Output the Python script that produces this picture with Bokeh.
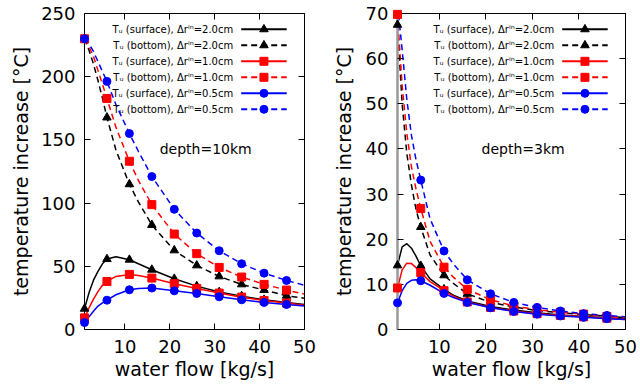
from bokeh.plotting import figure
from bokeh.layouts import row
from bokeh.models import Range1d, LinearAxis, Label
from bokeh.embed import file_html
from bokeh.resources import INLINE

FONT = "DejaVu Sans"

# ---------------- data ----------------
flow_line = [1, 2, 3, 4, 5, 6, 8, 11, 13, 16, 21, 26, 31, 36, 41, 46, 50]
flow_marker = [1, 6, 11, 16, 21, 26, 31, 36, 41, 46]
x_ticks = [10, 20, 30, 40, 50]

# depth = 10 km
d10_surf_20 = [16.4, 29, 39, 46, 52, 55.7, 57.5, 55.2, 52.0, 47.3, 40.1, 34.3, 29.6, 26.4, 23.5, 21.4, 19.8]
d10_bot_20 = [230, 221, 210, 197, 183, 167.7, 142, 114.9, 101, 82.7, 62.6, 50.7, 42.0, 35.7, 31.2, 26.7, 24.8]
d10_surf_10 = [9.2, 17, 24, 30, 35, 38.0, 42, 43.6, 42.8, 40.7, 36.2, 32.5, 28.8, 25.6, 23.0, 20.9, 19.2]
d10_bot_10 = [230, 224, 216, 205, 194, 182.8, 160, 133.1, 118, 98.8, 75.5, 60.0, 49.1, 41.5, 35.7, 31.2, 28.0]
d10_surf_05 = [5.5, 10, 14.5, 18.5, 21, 23.2, 27.5, 31.4, 32.5, 32.8, 30.6, 28.5, 25.9, 23.5, 21.4, 19.8, 18.5]
d10_bot_05 = [230, 226, 220, 212, 204, 196.3, 178, 155.0, 141, 121.0, 95.1, 76.3, 62.3, 52.0, 44.6, 38.8, 35.0]
d10_y_ticks = [0, 50, 100, 150, 200, 250]

# depth = 3 km
d3_surf_20 = [14.2, 18.3, 19.0, 18.0, 16.2, 14.1, 11.2, 8.9, 7.6, 6.3, 5.1, 4.3, 3.7, 3.2, 2.9, 2.6, 2.3]
d3_bot_20 = [67.5, 50, 39, 32, 26.5, 22.7, 16.5, 12.0, 10.2, 7.9, 6.0, 5.0, 4.2, 3.7, 3.3, 3.0, 2.6]
d3_surf_10 = [9.2, 13.2, 14.7, 14.6, 13.7, 12.6, 10.6, 8.6, 7.4, 6.1, 4.9, 4.1, 3.5, 3.1, 2.8, 2.5, 2.2]
d3_bot_10 = [69.8, 54, 43.5, 36, 31, 26.8, 19.5, 13.8, 11.6, 8.9, 6.6, 5.2, 4.4, 3.8, 3.4, 2.9, 2.6]
d3_surf_05 = [5.9, 8.6, 10.2, 10.9, 11.0, 10.8, 9.8, 8.0, 7.1, 6.0, 4.8, 4.0, 3.4, 3.0, 2.7, 2.4, 2.2]
d3_bot_05 = [72, 62, 51, 43, 37.5, 33.1, 24.5, 17.4, 14.5, 11.0, 7.9, 6.0, 4.9, 4.1, 3.5, 3.1, 2.8]
d3_y_ticks = [0, 10, 20, 30, 40, 50, 60, 70]

labels = [
    "T\u1d64 (surface), \u0394r\u2071\u207f=2.0cm",
    "T\u1d64 (bottom), \u0394r\u2071\u207f=2.0cm",
    "T\u1d64 (surface), \u0394r\u2071\u207f=1.0cm",
    "T\u1d64 (bottom), \u0394r\u2071\u207f=1.0cm",
    "T\u1d64 (surface), \u0394r\u2071\u207f=0.5cm",
    "T\u1d64 (bottom), \u0394r\u2071\u207f=0.5cm",
]
colors = ["black", "black", "#ff0000", "#ff0000", "#0000ff", "#0000ff"]
dashes = ["solid", "6 4", "solid", "6 4", "solid", "6 4"]
markers = ["triangle", "triangle", "square", "square", "circle", "circle"]
msizes = [8.5, 8.5, 8, 8, 8, 8]

H = 386
B_TOP, B_BOT = 13, 57
X0, X1 = 1, 50


def make_panel(width, bl, br, ymax, yticks, series, title, title_xy,
               left_axis_color, ylab_standoff):
    p = figure(width=width, height=H, x_range=Range1d(X0, X1), y_range=Range1d(0, ymax),
               output_backend="svg", toolbar_location=None,
               min_border_left=bl, min_border_right=br,
               min_border_top=B_TOP, min_border_bottom=B_BOT)
    p.xgrid.visible = False
    p.ygrid.visible = False
    p.outline_line_color = None
    p.background_fill_color = "white"
    p.border_fill_color = "white"
    p.add_layout(LinearAxis(), "above")
    p.add_layout(LinearAxis(), "right")
    for ax in p.xaxis:
        ax.ticker = x_ticks
    for ax in p.yaxis:
        ax.ticker = yticks
    for ax in list(p.xaxis) + list(p.yaxis):
        ax.major_tick_in = 6
        ax.major_tick_out = 0
        ax.minor_tick_line_color = None
        ax.axis_line_color = "black"
        ax.major_tick_line_color = "black"
        ax.major_label_text_font = FONT
        ax.major_label_text_font_size = "18px"
        ax.major_label_text_color = "black"
        ax.axis_label_text_font = FONT
        ax.axis_label_text_font_size = "19px"
        ax.axis_label_text_font_style = "normal"
        ax.axis_label_text_color = "black"
    # mirror axes: ticks only, no labels painted
    for ax in (p.above[0], p.right[0]):
        ax.major_label_text_font_size = "1px"
        ax.major_label_text_color = None
        ax.major_label_standoff = 0
    xb = p.below[0]
    xb.axis_label = "water flow [kg/s]"
    xb.major_label_standoff = 10
    xb.axis_label_standoff = 2
    yl = p.left[0]
    yl.axis_label = "temperature increase [\u00b0C]"
    yl.major_label_standoff = 9
    yl.axis_label_standoff = ylab_standoff
    yl.axis_line_color = left_axis_color
    if left_axis_color != "black":
        yl.axis_line_width = 2.5

    idx = [flow_line.index(f) for f in flow_marker]
    for vals, c, d, m, s in zip(series, colors, dashes, markers, msizes):
        p.line(flow_line, vals, line_color=c, line_width=1.5, line_dash=d)
        mx = [flow_line[i] for i in idx if vals[i] <= ymax]
        my = [vals[i] for i in idx if vals[i] <= ymax]
        p.scatter(mx, my, marker=m, size=s, fill_color=c, line_color=c, level="overlay")

    # legend (gnuplot style: right-justified text, key sample on the right)
    fw = width - bl - br
    fh = H - B_TOP - B_BOT

    def dx(px):
        return X0 + (X1 - X0) * px / fw

    def dy(py):
        return ymax - ymax * py / fh

    text_r = fw - 71.3
    key0, key1 = fw - 63.3, fw - 17.8
    for i, (lab, c, d, m, s) in enumerate(zip(labels, colors, dashes, markers, msizes)):
        yy = dy(15.8 + 16 * i)
        p.add_layout(Label(x=dx(text_r), y=yy, text=lab, text_align="right",
                           text_baseline="middle", text_font=FONT,
                           text_font_size="10px", text_color="black"))
        p.line([dx(key0), dx(key1)], [yy, yy], line_color=c, line_width=2, line_dash=d)
        p.scatter([dx((key0 + key1) / 2)], [yy], marker=m, size=s, fill_color=c, line_color=c)

    p.add_layout(Label(x=title_xy[0], y=title_xy[1], text=title, text_align="center",
                       text_baseline="middle", text_font=FONT, text_font_size="14px",
                       text_color="black"))
    return p


p1 = make_panel(320, 84, 16, 250, d10_y_ticks,
                [d10_surf_20, d10_bot_20, d10_surf_10, d10_bot_10, d10_surf_05, d10_bot_05],
                "depth=10km", (28, 143), "black", 6)
p2 = make_panel(320, 77, 15, 70, d3_y_ticks,
                [d3_surf_20, d3_bot_20, d3_surf_10, d3_bot_10, d3_surf_05, d3_bot_05],
                "depth=3km", (28, 40), "#999999", 8)

layout = row(p1, p2)
open("out.html", "w").write(file_html(layout, INLINE))
